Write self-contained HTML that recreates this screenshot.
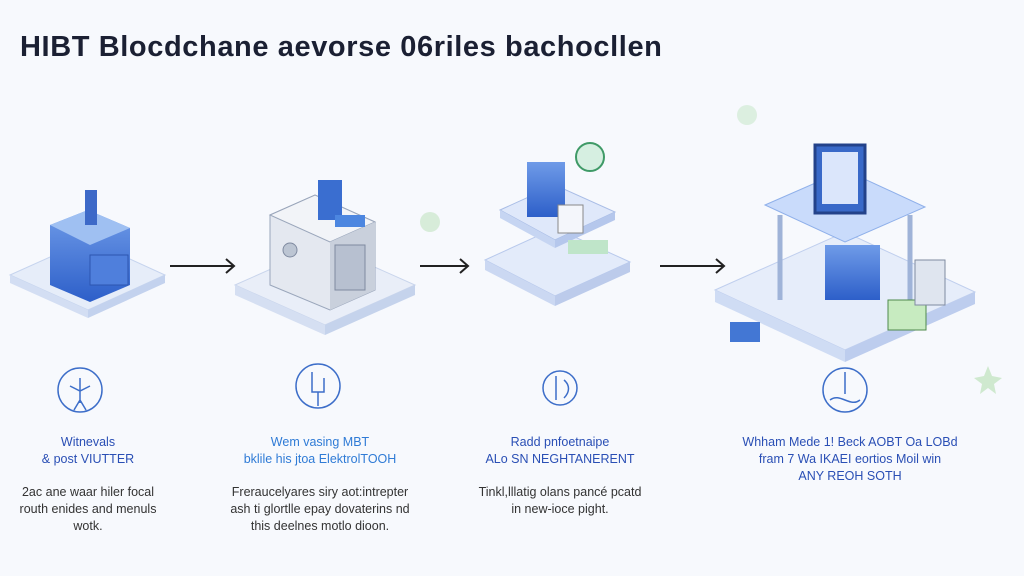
<!DOCTYPE html>
<html><head><style>
body{margin:0;width:1024px;height:576px;background:#f7f9fd;font-family:"Liberation Sans",sans-serif;overflow:hidden;position:relative}
.t{position:absolute;text-align:center;font-size:12.5px;line-height:17px}
.h{color:#2a4fb5}
.b{color:#333}
</style></head><body>
<div style="position:absolute;left:20px;top:31px;font-size:29px;font-weight:bold;color:#1b2033;letter-spacing:0.6px">HIBT Blocdchane aevorse 06riles bachocllen</div>
<svg width="1024" height="576" style="position:absolute;left:0;top:0">
<defs><linearGradient id="g" x1="0" y1="0" x2="0" y2="1"><stop offset="0" stop-color="#6f9be8"/><stop offset="1" stop-color="#2d5fc9"/></linearGradient></defs>
<polygon points="10,275 88,240 165,275 88,310" fill="#e6edf9" stroke="#c6d4ee"/>
<polygon points="10,275 88,310 88,318 10,283" fill="#d3def3"/><polygon points="165,275 88,310 88,318 165,283" fill="#c3d2ee"/>
<polygon points="50,225 88,210 130,228 130,285 90,302 50,285" fill="url(#g)"/>
<polygon points="50,225 88,210 130,228 90,245" fill="#9fc0f2"/>
<rect x="90" y="255" width="38" height="30" fill="#4f7fdc" stroke="#2c55b0"/>
<rect x="85" y="190" width="12" height="35" fill="#3d69c8"/>
<g stroke="#222" stroke-width="2" fill="none"><line x1="170" y1="266" x2="234" y2="266"/><polyline points="226,259 234,266 226,273"/>
<line x1="420" y1="266" x2="468" y2="266"/><polyline points="460,259 468,266 460,273"/>
<line x1="660" y1="266" x2="724" y2="266"/><polyline points="716,259 724,266 716,273"/></g>
<polygon points="235,285 325,245 415,285 325,325" fill="#e9eef8" stroke="#c9d5ec"/>
<polygon points="235,285 325,325 325,335 235,295" fill="#d5dff2"/><polygon points="415,285 325,325 325,335 415,295" fill="#c5d3ec"/>
<polygon points="270,215 315,195 375,222 375,290 330,310 270,285" fill="#e4e8f0" stroke="#9aa6bb"/>
<polygon points="270,215 315,195 375,222 330,242" fill="#f2f4f8" stroke="#9aa6bb"/>
<polygon points="330,242 375,222 375,290 330,310" fill="#c9d0dc"/>
<rect x="335" y="245" width="30" height="45" fill="#b7c0d0" stroke="#7f8aa0"/>
<circle cx="290" cy="250" r="7" fill="#bcc5d3" stroke="#7f8aa0"/>
<rect x="318" y="180" width="24" height="40" fill="#3a6ed0"/><rect x="335" y="215" width="30" height="12" fill="#4c86e0"/>
<polygon points="485,260 555,228 630,262 555,296" fill="#e3ebfa" stroke="#b8c9ec"/>
<polygon points="485,260 555,296 555,306 485,270" fill="#cbd8f2"/><polygon points="630,262 555,296 555,306 630,272" fill="#bccbeb"/>
<polygon points="500,210 555,185 615,212 555,240" fill="#dfe8fa" stroke="#a9bde6"/>
<polygon points="500,210 555,240 555,248 500,218" fill="#c6d5f2"/><polygon points="615,212 555,240 555,248 615,220" fill="#b5c7ec"/>
<rect x="527" y="162" width="38" height="55" fill="url(#g)"/>
<rect x="558" y="205" width="25" height="28" fill="#f4f6fb" stroke="#888"/>
<circle cx="590" cy="157" r="14" fill="#d6efe1" stroke="#3f9a67" stroke-width="2"/>
<rect x="568" y="240" width="40" height="14" fill="#bfe5c9"/>
<polygon points="715,290 845,232 975,292 845,350" fill="#e6edfa" stroke="#c0cfee"/>
<polygon points="715,290 845,350 845,362 715,302" fill="#cfdcf4"/><polygon points="975,292 845,350 845,362 975,304" fill="#bdcdee"/>
<polygon points="765,205 845,170 925,207 845,242" fill="#c9dbfb" stroke="#8fb0ea"/>
<line x1="780" y1="215" x2="780" y2="300" stroke="#9fb3d8" stroke-width="5"/><line x1="910" y1="215" x2="910" y2="300" stroke="#9fb3d8" stroke-width="5"/>
<rect x="815" y="145" width="50" height="68" fill="#3969c8" stroke="#23428a" stroke-width="3"/>
<rect x="822" y="152" width="36" height="52" fill="#dbe6fb"/>
<rect x="825" y="245" width="55" height="55" fill="url(#g)"/>
<rect x="888" y="300" width="38" height="30" fill="#c7ebc0" stroke="#4f8a4c"/>
<rect x="915" y="260" width="30" height="45" fill="#dfe5ef" stroke="#7f8aa0"/>
<rect x="730" y="322" width="30" height="20" fill="#4377d4"/>
<g fill="none" stroke="#3d6ec9" stroke-width="1.5">
<circle cx="80" cy="390" r="22"/><path d="M80 378v25M70 386l10 5 10-5M74 410l6-10 6 10"/>
<circle cx="318" cy="386" r="22"/><path d="M312 372v20h12v-14M318 392v14"/>
<circle cx="560" cy="388" r="17"/><path d="M556 376v24M564 380c6 5 6 12 0 18"/>
<circle cx="845" cy="390" r="22"/><path d="M830 400c10-8 20 8 30 0M845 372v22"/>
</g>
<circle cx="747" cy="115" r="10" fill="#dcefe0"/><circle cx="430" cy="222" r="10" fill="#d7ecd9"/>
<polygon points="988,366 992,376 1002,378 994,384 996,394 988,388 980,394 982,384 974,378 984,376" fill="#cfe9cf"/>
</svg>
<div class="t h" style="left:0;width:176px;top:434px">Witnevals<br>&amp; post VIUTTER</div>
<div class="t b" style="left:0;width:176px;top:484px">2ac ane waar hiler focal<br>routh enides and menuls<br>wotk.</div>
<div class="t h" style="left:220px;width:200px;top:434px;color:#2f7bd6">Wem vasing MBT<br>bklile his jtoa ElektrolTOOH</div>
<div class="t b" style="left:210px;width:220px;top:484px">Freraucelyares siry aot:intrepter<br>ash ti glortlle epay dovaterins nd<br>this deelnes motlo dioon.</div>
<div class="t h" style="left:470px;width:180px;top:434px">Radd pnfoetnaipe<br>ALo SN NEGHTANERENT</div>
<div class="t b" style="left:460px;width:200px;top:484px">Tinkl,lllatig olans pancé pcatd<br>in new-ioce pight.</div>
<div class="t h" style="left:730px;width:240px;top:434px">Whham Mede 1! Beck AOBT Oa LOBd<br>fram 7 Wa IKAEI eortios Moil win<br>ANY REOH SOTH</div>
</body></html>
